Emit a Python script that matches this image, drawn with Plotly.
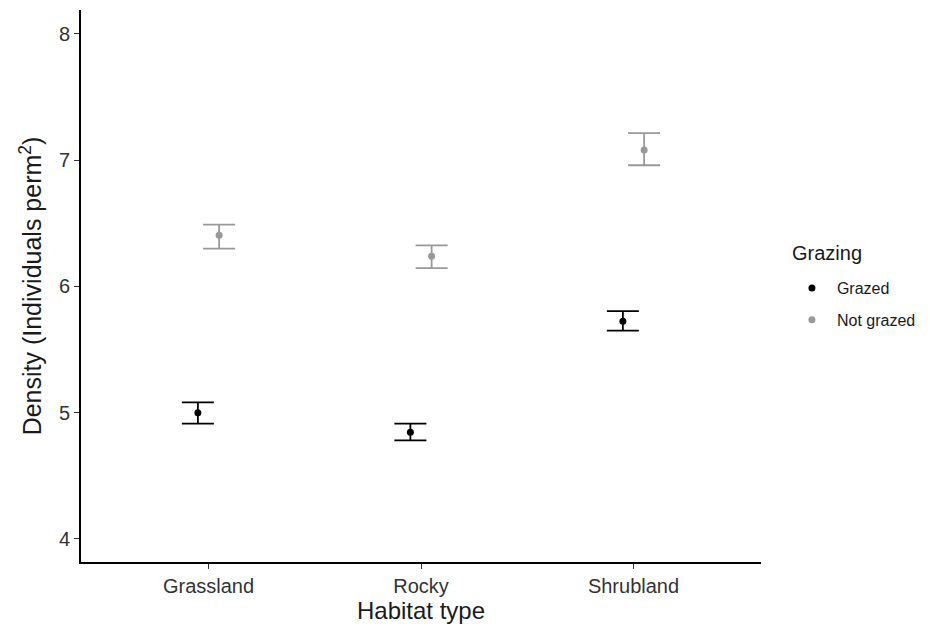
import plotly.graph_objects as go

# Mean density per habitat with standard-error bars, split by grazing treatment
habitats = ["Grassland", "Rocky", "Shrubland"]
grazing_levels = ["Grazed", "Not grazed"]
legend_title = "Grazing"

grazed_mean = [5.00, 4.845, 5.725]
grazed_upper = [5.082, 4.913, 5.805]
grazed_lower = [4.913, 4.78, 5.65]

notgrazed_mean = [6.405, 6.24, 7.08]
notgrazed_upper = [6.49, 6.325, 7.214]
notgrazed_lower = [6.30, 6.145, 6.96]

colors = {"Grazed": "#000000", "Not grazed": "#999999"}
dodge = {"Grazed": -0.05, "Not grazed": 0.05}

series = {
    "Grazed": (grazed_mean, grazed_upper, grazed_lower),
    "Not grazed": (notgrazed_mean, notgrazed_upper, notgrazed_lower),
}

fig = go.Figure()
for i, level in enumerate(grazing_levels):
    mean, upper, lower = series[level]
    xs = [k + 1 + dodge[level] for k in range(len(habitats))]
    fig.add_trace(go.Scatter(
        x=xs, y=mean, mode="markers", name=level,
        legendgroup=level,
        marker=dict(color=colors[level], size=7),
        error_y=dict(
            type="data", symmetric=False,
            array=[u - m for u, m in zip(upper, mean)],
            arrayminus=[m - l for m, l in zip(mean, lower)],
            color=colors[level], thickness=1.8, width=16,
        ),
    ))

# Legend heading placed separately so the item spacing below it can be set freely
fig.add_annotation(
    text=legend_title, xref="paper", yref="paper",
    x=1.043, y=0.5598, xanchor="left", yanchor="middle",
    showarrow=False, font=dict(size=20, color="#1a1a1a"),
)

fig.update_layout(
    width=930, height=630,
    margin=dict(l=81, r=168, t=10, b=68),
    paper_bgcolor="white", plot_bgcolor="white",
    font=dict(family="Liberation Sans, Arial, sans-serif", color="#000000"),
    showlegend=True,
    legend=dict(
        font=dict(size=16, color="#1a1a1a"),
        x=1.0366, xanchor="left", y=0.527, yanchor="top",
        tracegroupgap=8, itemwidth=40,
        bgcolor="rgba(0,0,0,0)",
    ),
    xaxis=dict(
        range=[0.4, 3.6],
        tickmode="array", tickvals=[1, 2, 3], ticktext=habitats,
        showgrid=False, zeroline=False,
        showline=True, linecolor="#000000", linewidth=2,
        ticks="outside", ticklen=5, tickcolor="#333333", tickwidth=1,
        tickfont=dict(size=20, color="#333333"),
        title=dict(text="Habitat type", font=dict(size=24, color="#1a1a1a"), standoff=4),
    ),
    yaxis=dict(
        range=[3.817, 8.19],
        tickmode="array", tickvals=[4, 5, 6, 7, 8],
        showgrid=False, zeroline=False,
        showline=True, linecolor="#000000", linewidth=2,
        ticks="outside", ticklen=5, tickcolor="#333333", tickwidth=1,
        tickfont=dict(size=20, color="#333333"),
        title=dict(text="Density (Individuals perm<sup>2</sup>)",
                   font=dict(size=25, color="#1a1a1a"), standoff=10),
    ),
)

fig.write_html("out.html")
